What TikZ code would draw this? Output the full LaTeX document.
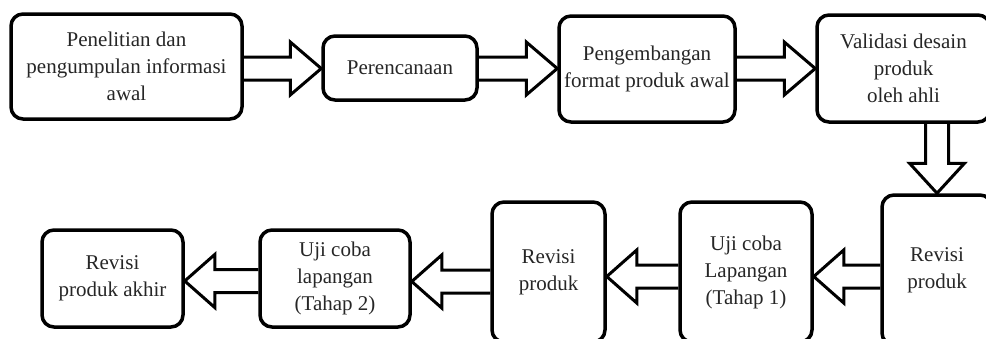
\documentclass[tikz,border=0pt]{standalone}
\usepackage{fontspec}
\setmainfont{Liberation Serif}
\usetikzlibrary{calc}
\tikzset{
  box/.style={draw, line width=3.5pt, rounded corners=12pt, align=center, inner sep=0pt,
    font=\fontsize{21}{27}\selectfont, text=black!85},
  fatline/.style={line width=3pt, line join=miter, miter limit=20},
}
\newcommand\fatR[3]{%
  \coordinate (s) at (#1.east |- 0,#3);
  \coordinate (t) at (#2.west |- 0,#3);
  \draw[fatline] ($(s)+(0,-11.5)$) -- ($(t)+(-31,-11.5)$) -- ($(t)+(-31,-26.5)$) -- (t)
    -- ($(t)+(-31,26.5)$) -- ($(t)+(-31,11.5)$) -- ($(s)+(0,11.5)$);}
\newcommand\fatL[3]{%
  \coordinate (s) at (#1.west |- 0,#3);
  \coordinate (t) at (#2.east |- 0,#3);
  \draw[fatline] ($(s)+(0,-11.5)$) -- ($(t)+(30,-11.5)$) -- ($(t)+(30,-26.5)$) -- (t)
    -- ($(t)+(30,26.5)$) -- ($(t)+(30,11.5)$) -- ($(s)+(0,11.5)$);}
\begin{document}
\begin{tikzpicture}[x=1pt, y=-1pt]
\useasboundingbox (0,0) rectangle (986,338);
\clip (0,0) rectangle (986,338);
\node[box, minimum width=231pt, minimum height=105pt] (b1) at (126.5,66.5)
  {Penelitian dan\\pengumpulan informasi\\awal};
\node[box, minimum width=154pt, minimum height=64pt] (b2) at (400,68) {Perencanaan};
\node[box, minimum width=176pt, minimum height=106pt] (b3) at (647,69)
  {Pengembangan\\format produk awal};
\node[box, minimum width=173pt, minimum height=107pt] (b4) at (903.5,68.5)
  {Validasi desain\\produk\\oleh ahli};
\node[box, minimum width=110pt, minimum height=150pt] (b5) at (937,270) {Revisi\\produk};
\node[box, minimum width=132pt, minimum height=140pt] (b6) at (746,272)
  {Uji coba\\Lapangan\\(Tahap 1)};
\node[box, minimum width=113pt, minimum height=140pt] (b7) at (548.5,272) {Revisi\\produk};
\node[box, minimum width=150pt, minimum height=97pt] (b8) at (335,278.5)
  {Uji coba\\lapangan\\(Tahap 2)};
\node[box, minimum width=141pt, minimum height=97pt] (b9) at (112.5,278.5)
  {Revisi\\produk akhir};
\fatR{b1}{b2}{68.5}
\fatR{b2}{b3}{68.5}
\fatR{b3}{b4}{68.5}
\coordinate (ds) at (b5.north |- b4.south);
\draw[fatline] ($(ds)+(-11.5,0)$) -- ($(b5.north)+(-11.5,-30)$) -- ($(b5.north)+(-27.5,-30)$)
  -- (b5.north) -- ($(b5.north)+(27.5,-30)$) -- ($(b5.north)+(11.5,-30)$) -- ($(ds)+(11.5,0)$);
\fatL{b5}{b6}{276.5}
\fatL{b6}{b7}{276.5}
\fatL{b7}{b8}{281.5}
\fatL{b8}{b9}{281}
\end{tikzpicture}
\end{document}
